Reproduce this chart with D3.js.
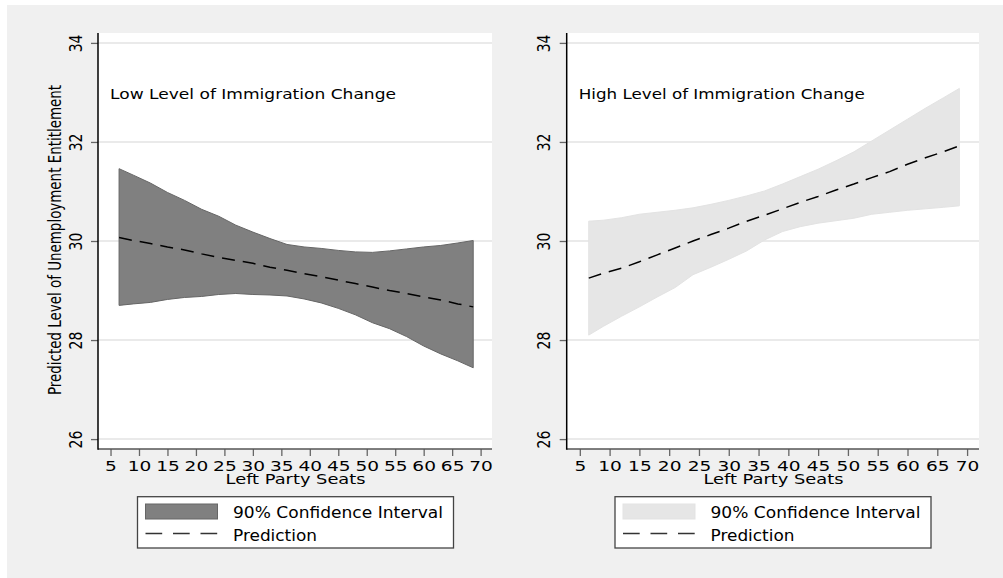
<!DOCTYPE html>
<html>
<head>
<meta charset="utf-8">
<script src="https://cdn.jsdelivr.net/npm/d3@7"></script>
<style>
  html, body { margin: 0; padding: 0; background: #fff; }
  text { font-family: "DejaVu Sans", sans-serif; fill: #000; }
</style>
</head>
<body>
<svg id="chart" width="1003" height="578"></svg>
<script>
// Left Party Seats at which the predictions were evaluated
const seats = [6.5, 9, 12, 15, 18, 21, 24, 27, 30, 33, 36, 39, 42, 45, 48, 51, 54, 57, 60, 63, 66, 68.7];

// low level of immigration change
const lowUpper = [31.46, 31.33, 31.17, 30.98, 30.82, 30.64, 30.50, 30.32, 30.18, 30.05, 29.93, 29.88, 29.85, 29.81, 29.78, 29.77, 29.80, 29.84, 29.88, 29.91, 29.96, 30.01];
const lowLower = [28.70, 28.73, 28.76, 28.82, 28.86, 28.88, 28.92, 28.94, 28.92, 28.91, 28.89, 28.83, 28.75, 28.64, 28.51, 28.35, 28.23, 28.07, 27.88, 27.72, 27.58, 27.44];
const lowPred = [30.07, 30.01, 29.95, 29.88, 29.82, 29.74, 29.67, 29.61, 29.55, 29.47, 29.41, 29.34, 29.28, 29.21, 29.14, 29.07, 29.00, 28.94, 28.87, 28.81, 28.73, 28.67];

// high level of immigration change
const highUpper = [30.40, 30.42, 30.47, 30.54, 30.58, 30.62, 30.67, 30.74, 30.82, 30.91, 31.01, 31.15, 31.30, 31.45, 31.62, 31.80, 32.02, 32.24, 32.46, 32.68, 32.89, 33.08];
const highLower = [28.10, 28.28, 28.48, 28.67, 28.87, 29.06, 29.32, 29.47, 29.63, 29.80, 30.02, 30.19, 30.29, 30.36, 30.41, 30.46, 30.54, 30.58, 30.62, 30.65, 30.68, 30.71];
const highPred = [29.25, 29.35, 29.45, 29.58, 29.72, 29.86, 30.00, 30.13, 30.26, 30.40, 30.52, 30.65, 30.78, 30.90, 31.03, 31.15, 31.28, 31.40, 31.55, 31.68, 31.80, 31.92];

const xTicks = [5, 10, 15, 20, 25, 30, 35, 40, 45, 50, 55, 60, 65, 70];
const yTicks = [26, 28, 30, 32, 34];
const titles = ['Low Level of Immigration Change', 'High Level of Immigration Change'];
const legendLabels = ['90% Confidence Interval', 'Prediction'];
const xTitle = 'Left Party Seats';
const yTitle = 'Predicted Level of Unemployment Entitlement';

const svg = d3.select('#chart');
const SX = 1.28; // the source picture is stretched sideways

svg.append('rect').attr('x', 7).attr('y', 5).attr('width', 996).attr('height', 573).attr('fill', '#f0f0f0');

const panels = [
  {left: 98, right: 492, title: titles[0], upper: lowUpper, lower: lowLower, pred: lowPred,
   fill: '#808080', edge: '#666', legend: [137.5, 453.5], yTitle: true},
  {left: 566.7, right: 979, title: titles[1], upper: highUpper, lower: highLower, pred: highPred,
   fill: '#e6e6e6', edge: '#e3e3e3', legend: [615, 931], yTitle: false}
];
const plotTop = 33, plotBottom = 449;

panels.forEach(p => {
  const g = svg.append('g');
  const x = d3.scaleLinear().domain([2.8, 72.0]).range([p.left, p.right]);
  const y = d3.scaleLinear().domain([25.8, 34.2]).range([plotBottom, plotTop]);
  const rows = seats.map((s, i) => ({s, hi: p.upper[i], lo: p.lower[i], pr: p.pred[i]}));

  g.append('rect').attr('x', p.left).attr('y', plotTop)
    .attr('width', p.right - p.left).attr('height', plotBottom - plotTop).attr('fill', '#fff');

  // grid
  g.selectAll('line.grid').data(yTicks).join('line')
    .attr('x1', p.left).attr('x2', p.right)
    .attr('y1', d => y(d)).attr('y2', d => y(d))
    .attr('stroke', '#eaeaea').attr('stroke-width', 2);

  // band
  g.append('path').datum(rows)
    .attr('d', d3.area().x(d => x(d.s)).y0(d => y(d.lo)).y1(d => y(d.hi)))
    .attr('fill', p.fill).attr('stroke', p.edge).attr('stroke-width', 1);

  // prediction
  g.append('path').datum(rows)
    .attr('d', d3.line().x(d => x(d.s)).y(d => y(d.pr)))
    .attr('fill', 'none').attr('stroke', '#000').attr('stroke-width', 1.5)
    .attr('stroke-dasharray', '13,8');

  // axes
  const ax = g.append('g').attr('transform', `translate(0,${plotBottom})`)
    .call(d3.axisBottom(x).tickValues(xTicks).tickSize(7).tickFormat(d3.format('d')));
  ax.select('.domain').remove();
  ax.selectAll('.tick line').attr('stroke', '#666').attr('stroke-width', 1.3);
  ax.selectAll('.tick text').attr('dy', null).attr('y', null)
    .attr('transform', `translate(0,22) scale(${SX},1)`)
    .style('font-size', '14.5px').attr('fill', '#000');

  const ay = g.append('g').attr('transform', `translate(${p.left},0)`)
    .call(d3.axisLeft(y).tickValues(yTicks).tickSize(7).tickFormat(d3.format('d')));
  ay.select('.domain').remove();
  ay.selectAll('.tick line').attr('stroke', '#666').attr('stroke-width', 1.3);
  ay.selectAll('.tick text').attr('x', null).attr('dy', null).attr('text-anchor', 'middle')
    .attr('transform', `translate(-16.5,0) scale(${SX},1) rotate(-90)`)
    .style('font-size', '14px').attr('fill', '#000');

  g.append('line').attr('x1', p.left).attr('x2', p.right).attr('y1', plotBottom).attr('y2', plotBottom)
    .attr('stroke', '#555').attr('stroke-width', 1.5);
  g.append('line').attr('x1', p.left).attr('x2', p.left).attr('y1', plotTop).attr('y2', plotBottom + 0.75)
    .attr('stroke', '#000').attr('stroke-width', 1.5);

  // panel title
  g.append('text').attr('x', p.left + 12).attr('y', 99)
    .attr('textLength', 286).attr('lengthAdjust', 'spacingAndGlyphs')
    .style('font-size', '14px').text(p.title);

  // x title
  const xc = (x(5) + x(70)) / 2;
  g.append('text').attr('x', xc).attr('y', 484).attr('text-anchor', 'middle')
    .attr('textLength', 140).attr('lengthAdjust', 'spacingAndGlyphs')
    .style('font-size', '13.5px').text(xTitle);

  if (p.yTitle) {
    g.append('text').attr('text-anchor', 'middle')
      .attr('transform', `translate(60.5,240) scale(${SX},1) rotate(-90)`)
      .attr('textLength', 310).attr('lengthAdjust', 'spacingAndGlyphs')
      .style('font-size', '14px').text(yTitle);
  }

  // legend
  const [l0, l1] = p.legend;
  const lg = g.append('g');
  lg.append('rect').attr('x', l0).attr('y', 496.7).attr('width', l1 - l0).attr('height', 51.3)
    .attr('fill', '#fff').attr('stroke', '#444').attr('stroke-width', 1.3);
  lg.append('rect').attr('x', l0 + 8).attr('y', 504).attr('width', 72).attr('height', 15)
    .attr('fill', p.fill).attr('stroke', p.edge).attr('stroke-width', 1);
  lg.append('line').attr('x1', l0 + 8).attr('x2', l0 + 80).attr('y1', 533.5).attr('y2', 533.5)
    .attr('stroke', '#333').attr('stroke-width', 1.5).attr('stroke-dasharray', '16.7,10.8');
  lg.append('text').attr('x', l0 + 95.5).attr('y', 518.3)
    .attr('textLength', 210).attr('lengthAdjust', 'spacingAndGlyphs')
    .style('font-size', '15px').text(legendLabels[0]);
  lg.append('text').attr('x', l0 + 95.5).attr('y', 541.3)
    .attr('textLength', 84).attr('lengthAdjust', 'spacingAndGlyphs')
    .style('font-size', '15px').text(legendLabels[1]);
});
</script>
</body>
</html>
